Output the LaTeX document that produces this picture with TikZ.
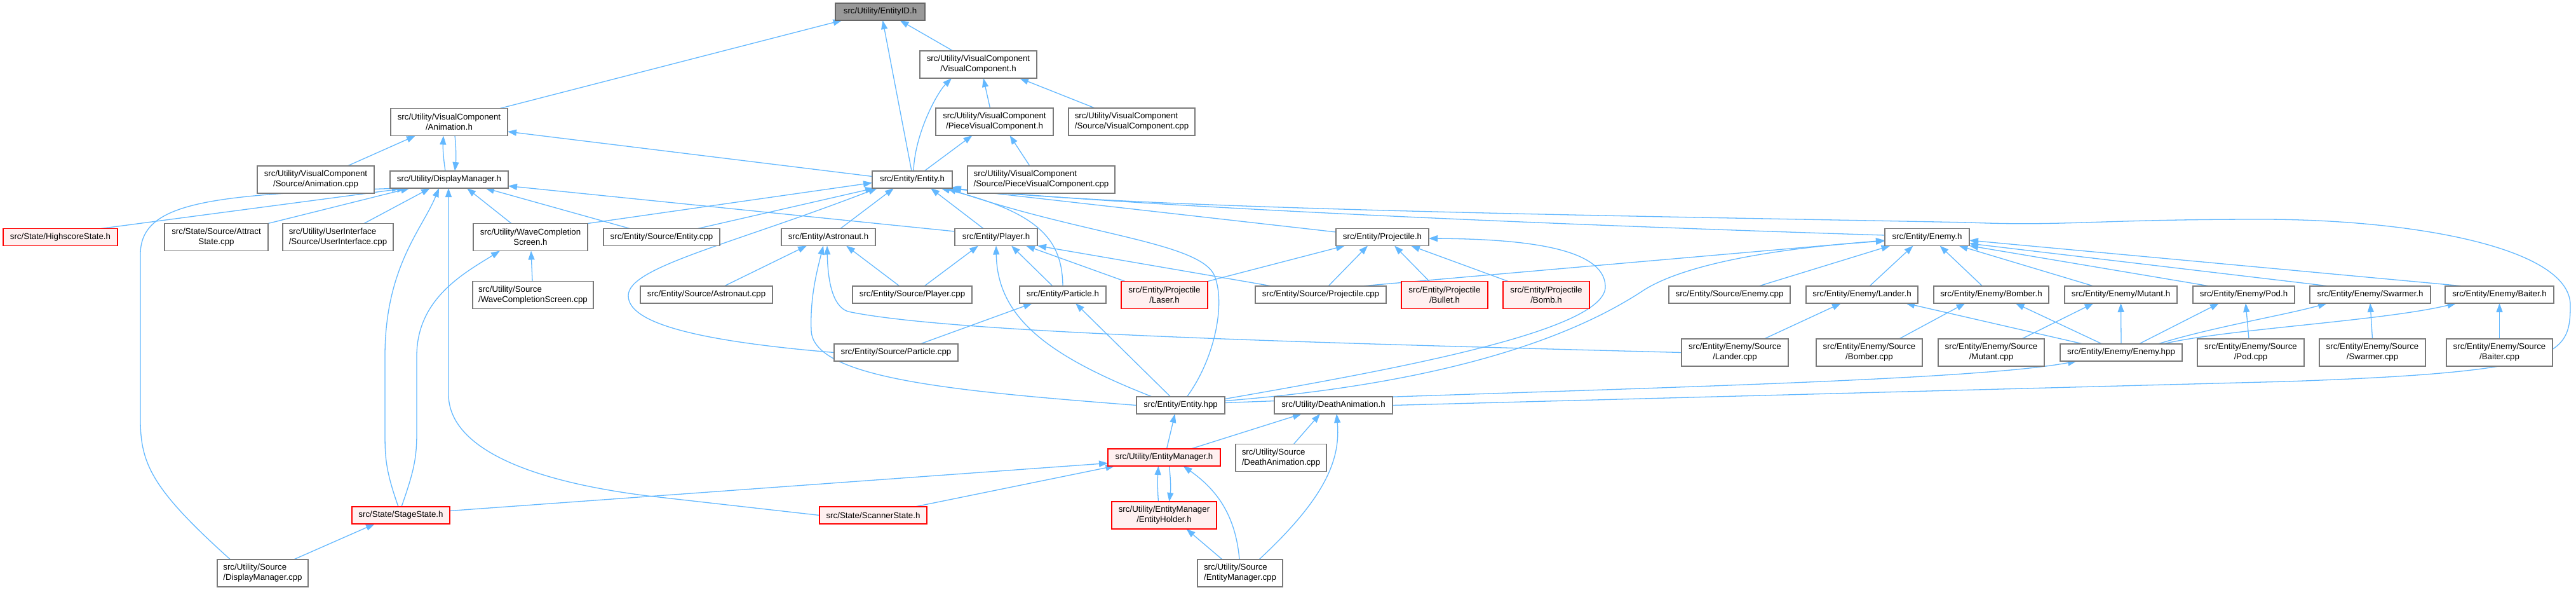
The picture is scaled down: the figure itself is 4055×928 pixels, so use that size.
\documentclass[tikz,border=0pt]{standalone}
\usepackage{fontspec}
\setmainfont{Liberation Sans}
\usetikzlibrary{arrows.meta,backgrounds}
\definecolor{edgeblue}{HTML}{63B8FF}
\definecolor{boxline}{HTML}{7A7A7A}
\definecolor{focusfill}{HTML}{999999}
\definecolor{focusline}{HTML}{666666}
\definecolor{truncfill}{HTML}{FFF0F0}
\tikzset{
  file/.style={draw=boxline,fill=white,line width=1.3pt,inner sep=0pt,outer sep=0pt,
    font=\fontsize{13.3}{16}\selectfont,align=center,minimum height=27pt},
  tall/.style={minimum height=43pt},
  trunc/.style={file,draw=red,fill=truncfill},
  focus/.style={file,draw=focusline,fill=focusfill},
  wd/.style={minimum width=#1pt},
  dep/.style={-{Triangle[length=14pt,width=10pt]},edgeblue,line width=1.3pt},
}

\begin{document}
\begin{tikzpicture}[x=1pt,y=-1pt]
\useasboundingbox (0,0) rectangle (4055,928);
% top of the graph
\node[focus,wd=141] (eid) at (1385.5,18.5) {src/Utility/EntityID.h};
\node[file,tall,wd=184] (vch) at (1540,101.5) {src/Utility/VisualComponent\\/VisualComponent.h};
\node[file,tall,wd=184] (animh) at (707,192) {src/Utility/VisualComponent\\/Animation.h};
\node[file,tall,wd=185] (pvch) at (1565.5,191.5) {src/Utility/VisualComponent\\/PieceVisualComponent.h};
\node[file,tall,wd=199,align=left] (vccpp) at (1781.5,191.5) {src/Utility/VisualComponent\\/Source/VisualComponent.cpp};
\node[file,tall,wd=184] (animcpp) at (497,282.5) {src/Utility/VisualComponent\\/Source/Animation.cpp};
\node[file,wd=186] (dmh) at (707,282.5) {src/Utility/DisplayManager.h};
\node[file,wd=126] (enth) at (1436,282.5) {src/Entity/Entity.h};
\node[file,tall,wd=232,align=left] (pvccpp) at (1639,282.5) {src/Utility/VisualComponent\\/Source/PieceVisualComponent.cpp};

% headers that include Entity.h / DisplayManager.h
\node[trunc,wd=180] (hss) at (95,373) {src/State/HighscoreState.h};
\node[file,tall,wd=163] (attr) at (340.5,373) {src/State/Source/Attract\\State.cpp};
\node[file,tall,wd=174,align=left] (uicpp) at (532,373) {src/Utility/UserInterface\\/Source/UserInterface.cpp};
\node[file,tall,wd=180] (wcsh) at (835,373) {src/Utility/WaveCompletion\\Screen.h};
\node[file,wd=183] (entcpp) at (1041.5,373) {src/Entity/Source/Entity.cpp};
\node[file,wd=148] (astroh) at (1304,373) {src/Entity/Astronaut.h};
\node[file,wd=130] (playh) at (1568,373) {src/Entity/Player.h};
\node[file,wd=146] (projh) at (2176,373) {src/Entity/Projectile.h};
\node[file,wd=133] (enemyh) at (3033.5,373) {src/Entity/Enemy.h};

% next row
\node[file,tall,wd=190,align=left] (wcscpp) at (839,464) {src/Utility/Source\\/WaveCompletionScreen.cpp};
\node[file,wd=208] (astrocpp) at (1112,463.5) {src/Entity/Source/Astronaut.cpp};
\node[file,wd=188] (playcpp) at (1436,463.5) {src/Entity/Source/Player.cpp};
\node[file,wd=136] (parth) at (1673,463.5) {src/Entity/Particle.h};
\node[trunc,tall,wd=136] (laser) at (1833,464) {src/Entity/Projectile\\/Laser.h};
\node[file,wd=206] (projcpp) at (2079,463.5) {src/Entity/Source/Projectile.cpp};
\node[trunc,tall,wd=136] (bullet) at (2274,464) {src/Entity/Projectile\\/Bullet.h};
\node[trunc,tall,wd=136] (bomb) at (2434,464) {src/Entity/Projectile\\/Bomb.h};
\node[file,wd=191] (enemycpp) at (2722.5,463.5) {src/Entity/Source/Enemy.cpp};
\node[file,wd=176] (landerh) at (2931,463.5) {src/Entity/Enemy/Lander.h};
\node[file,wd=181] (bomberh) at (3134.5,463.5) {src/Entity/Enemy/Bomber.h};
\node[file,wd=177] (mutanth) at (3338.5,463.5) {src/Entity/Enemy/Mutant.h};
\node[file,wd=160] (podh) at (3532,463.5) {src/Entity/Enemy/Pod.h};
\node[file,wd=190] (swarmerh) at (3731,463.5) {src/Entity/Enemy/Swarmer.h};
\node[file,wd=171] (baiterh) at (3934.5,463.5) {src/Entity/Enemy/Baiter.h};

% sources of the enemies
\node[file,wd=195] (partcpp) at (1410.5,554.5) {src/Entity/Source/Particle.cpp};
\node[file,tall,wd=168] (landercpp) at (2731,554.5) {src/Entity/Enemy/Source\\/Lander.cpp};
\node[file,tall,wd=167] (bombercpp) at (2942.5,554.5) {src/Entity/Enemy/Source\\/Bomber.cpp};
\node[file,tall,wd=167] (mutantcpp) at (3134.5,554.5) {src/Entity/Enemy/Source\\/Mutant.cpp};
\node[file,wd=192] (enemyhpp) at (3339,554.5) {src/Entity/Enemy/Enemy.hpp};
\node[file,tall,wd=168] (podcpp) at (3543,554.5) {src/Entity/Enemy/Source\\/Pod.cpp};
\node[file,tall,wd=167] (swarmercpp) at (3734.5,554.5) {src/Entity/Enemy/Source\\/Swarmer.cpp};
\node[file,tall,wd=167] (baitercpp) at (3934.5,554.5) {src/Entity/Enemy/Source\\/Baiter.cpp};

% lower part
\node[file,wd=139] (enthpp) at (1858.5,637.5) {src/Entity/Entity.hpp};
\node[file,wd=186] (deathh) at (2099,637.5) {src/Utility/DeathAnimation.h};
\node[trunc,wd=177] (emh) at (1832.5,719.5) {src/Utility/EntityManager.h};
\node[file,tall,wd=143,align=left] (deathcpp) at (2016.5,720) {src/Utility/Source\\/DeathAnimation.cpp};
\node[trunc,wd=154] (stageh) at (631,810.5) {src/State/StageState.h};
\node[trunc,wd=169] (scanh) at (1374.5,810.5) {src/State/ScannerState.h};
\node[trunc,tall,wd=165] (holderh) at (1832.5,810.5) {src/Utility/EntityManager\\/EntityHolder.h};
\node[file,tall,wd=143,align=left] (dmcpp) at (413.5,901.5) {src/Utility/Source\\/DisplayManager.cpp};
\node[file,tall,wd=134,align=left] (emcpp) at (1952,901.5) {src/Utility/Source\\/EntityManager.cpp};

\begin{scope}[on background layer]
% into EntityID.h
\draw[dep] ([xshift=80pt]animh.north) -- ([xshift=-60pt]eid.south);
\draw[dep] ([xshift=-1pt]enth.north) -- ([xshift=4pt]eid.south);
\draw[dep] ([xshift=-40pt]vch.north) -- ([xshift=31pt]eid.south);
% visual components
\draw[dep] ([xshift=2pt]enth.north) .. controls (1440,210) and (1475,146) .. ([xshift=-42pt]vch.south);
\draw[dep] ([xshift=-7pt]pvch.north) -- ([xshift=8pt]vch.south);
\draw[dep] ([xshift=-58pt]vccpp.north) -- ([xshift=65pt]vch.south);
\draw[dep] ([xshift=19pt]enth.north) -- ([xshift=-35pt]pvch.south);
\draw[dep] ([xshift=-18pt]pvccpp.north) -- ([xshift=24pt]pvch.south);
% Animation.h and DisplayManager.h
\draw[dep] ([xshift=50pt]animcpp.north) -- ([xshift=-53pt]animh.south);
\draw[dep] ([xshift=-6pt]dmh.north) .. controls (698,250) and (697,232) .. ([xshift=-9pt]animh.south);
\draw[dep] ([xshift=9pt]animh.south) .. controls (718,232) and (718,250) .. ([xshift=9pt]dmh.north);
\draw[dep] ([yshift=5pt]enth.west) -- ([yshift=-15pt]animh.east);
\draw[dep] ([xshift=64pt]hss.north) -- ([xshift=-68pt]dmh.south);
\draw[dep] (attr.north east) -- ([xshift=-62pt]dmh.south);
\draw[dep] ([xshift=41pt]uicpp.north) -- ([xshift=-30pt]dmh.south);
\draw[dep] ([xshift=-30pt]wcsh.north) -- ([xshift=28pt]dmh.south);
\draw[dep] ([xshift=-50pt]entcpp.north) -- ([xshift=57pt]dmh.south);
\draw[dep] ([yshift=9pt]playh.west) -- ([yshift=-10pt]dmh.east);
\draw[dep] ([xshift=-51pt]dmcpp.north) .. controls (240,770) and (221,730) .. (221,660) -- (221,400)
  .. controls (221,318) and (330,306) .. ([xshift=-76pt]dmh.south);
\draw[dep] ([xshift=-4pt]stageh.north) .. controls (607,740) and (606,720) .. (606,680) -- (606,560)
  .. controls (606,420) and (665,360) .. ([xshift=-16pt]dmh.south);
\draw[dep] ([xshift=1pt]stageh.north) .. controls (652,740) and (656,720) .. (656,680) -- (656,560)
  .. controls (656,470) and (730,430) .. ([xshift=-48pt]wcsh.south);
\draw[dep] (scanh.west) -- (1020,780) .. controls (820,755) and (706,700) .. (706,620) -- ([xshift=-1pt]dmh.south);
% states and EntityManager.h
\draw[dep] ([xshift=49pt]dmcpp.north) -- ([xshift=-41pt]stageh.south);
\draw[dep] ([yshift=7pt]stageh.east) -- ([yshift=-9pt]emh.west);
\draw[dep] ([xshift=66pt]scanh.north) -- ([xshift=-78pt]emh.south);
% into Entity.h
\draw[dep] ([xshift=-1pt]wcscpp.north) -- ([xshift=1pt]wcsh.south);
\draw[dep] (wcsh.north east) -- ([yshift=-5pt]enth.west);
\draw[dep] ([xshift=57pt]entcpp.north) -- ([xshift=3pt]enth.south west);
\draw[dep] (partcpp.west) .. controls (1080,535) and (989,505) .. (989,465)
  .. controls (989,420) and (1150,385) .. ([xshift=8pt]enth.south west);
\draw[dep] ([xshift=19pt]astroh.north) -- ([xshift=-29pt]enth.south);
\draw[dep] ([xshift=-20pt]playh.north) -- ([xshift=29pt]enth.south);
\draw[dep] (parth.north) .. controls (1672,380) and (1640,335) .. ([xshift=45pt]enth.south);
\draw[dep] ([xshift=10pt]enthpp.north) .. controls (1915,560) and (1930,470) .. (1910,430)
  .. controls (1880,380) and (1700,368) .. ([xshift=55pt]enth.south);
\draw[dep] ([yshift=8pt]projh.west) -- ([xshift=-6pt]enth.south east);
\draw[dep] ([yshift=3pt]enemyh.west) .. controls (2400,352) and (1800,325) .. ([xshift=-3pt]enth.south east);
\draw[dep] (deathh.east) -- (3600,600) .. controls (4030,585) and (4046,560) .. (4046,480)
  .. controls (4046,390) and (3800,345) .. (3560,345) .. controls (3300,345) and (3250,356) .. (3100,350)
  .. controls (2600,340) and (1800,330) .. (enth.south east);
% Astronaut.h
\draw[dep] ([xshift=28pt]astrocpp.north) -- ([xshift=-34pt]astroh.south);
\draw[dep] ([xshift=-20pt]playcpp.north) -- ([xshift=28pt]astroh.south);
\draw[dep] (enthpp.west) .. controls (1500,615) and (1280,595) .. (1277,520)
  .. controls (1275,470) and (1285,430) .. ([xshift=-8pt]astroh.south);
\draw[dep] (landercpp.west) .. controls (2100,540) and (1500,525) .. (1335,490)
  .. controls (1310,482) and (1303,440) .. ([xshift=-2pt]astroh.south);
% Player.h
\draw[dep] ([xshift=19pt]playcpp.north) -- ([xshift=-28pt]playh.south);
\draw[dep] ([xshift=-45pt]enthpp.north) .. controls (1650,560) and (1570,500) .. (playh.south);
\draw[dep] ([xshift=-16pt]parth.north) -- ([xshift=24pt]playh.south);
\draw[dep] ([xshift=-62pt]laser.north) -- ([xshift=47pt]playh.south);
\draw[dep] ([xshift=-77pt]projcpp.north) -- (playh.south east);
% Particle.h
\draw[dep] ([xshift=38pt]partcpp.north) -- ([xshift=-48pt]parth.south);
\draw[dep] ([xshift=-16pt]enthpp.north) -- ([xshift=20pt]parth.south);
% Projectile.h
\draw[dep] (laser.north east) -- ([xshift=-59pt]projh.south);
\draw[dep] ([xshift=12pt]projcpp.north) -- ([xshift=-23pt]projh.south);
\draw[dep] ([xshift=-24pt]bullet.north) -- ([xshift=19pt]projh.south);
\draw[dep] ([xshift=-60pt]bomb.north) -- ([xshift=45pt]projh.south);
\draw[dep] ([yshift=10pt]enthpp.east) .. controls (2200,580) and (2530,520) .. (2527,450)
  .. controls (2525,390) and (2400,376) .. ([yshift=-2pt]projh.east);
% Enemy.h
\draw[dep] ([xshift=64pt]projcpp.north) -- ([yshift=-5pt]enemyh.west);
\draw[dep] ([yshift=7pt]enthpp.east) .. controls (2250,605) and (2460,540) .. (2585,458)
  .. controls (2650,415) and (2800,390) .. ([yshift=-6pt]enemyh.west);
\draw[dep] ([xshift=46pt]enemycpp.north) -- ([xshift=-58pt]enemyh.south);
\draw[dep] ([xshift=12pt]landerh.north) -- ([xshift=-22pt]enemyh.south);
\draw[dep] ([xshift=-14pt]bomberh.north) -- ([xshift=20pt]enemyh.south);
\draw[dep] ([xshift=-43pt]mutanth.north) -- ([xshift=50pt]enemyh.south);
\draw[dep] ([xshift=-54pt]podh.north) -- (enemyh.south east);
\draw[dep] ([xshift=-65pt]swarmerh.north) -- ([yshift=-10pt]enemyh.east);
\draw[dep] ([xshift=-57pt]baiterh.north) -- ([yshift=-5pt]enemyh.east);
% enemy kinds
\draw[dep] ([xshift=46pt]landercpp.north) -- ([xshift=-33pt]landerh.south);
\draw[dep] ([xshift=-60pt]enemyhpp.north) -- ([xshift=69pt]landerh.south);
\draw[dep] ([xshift=47pt]bombercpp.north) -- ([xshift=-41pt]bomberh.south);
\draw[dep] ([xshift=-30pt]enemyhpp.north) -- ([xshift=38pt]bomberh.south);
\draw[dep] ([xshift=48pt]mutantcpp.north) -- ([xshift=-43pt]mutanth.south);
\draw[dep] (enemyhpp.north) -- (mutanth.south);
\draw[dep] ([xshift=28pt]enemyhpp.north) -- ([xshift=-39pt]podh.south);
\draw[dep] ([xshift=-3pt]podcpp.north) -- ([xshift=3pt]podh.south);
\draw[dep] ([xshift=58pt]enemyhpp.north) .. controls (3480,515) and (3600,495) .. ([xshift=-68pt]swarmerh.south);
\draw[dep] (swarmercpp.north) -- (swarmerh.south);
\draw[dep] ([xshift=66pt]enemyhpp.north) .. controls (3500,518) and (3750,505) .. ([xshift=-68pt]baiterh.south);
\draw[dep] (baitercpp.north) -- (baiterh.south);
% Entity.hpp, DeathAnimation.h, EntityManager.h
\draw[dep] ([yshift=4pt]enthpp.east) .. controls (2500,612) and (3100,600) .. ([xshift=-70pt]enemyhpp.south);
\draw[dep] ([xshift=4pt]emh.north) -- ([xshift=-9pt]enthpp.south);
\draw[dep] ([xshift=42pt]emh.north) -- ([xshift=-50pt]deathh.south);
\draw[dep] ([xshift=20pt]deathcpp.north) -- ([xshift=-21pt]deathh.south);
\draw[dep] ([xshift=30pt]emcpp.north) .. controls (2090,780) and (2110,720) .. ([xshift=5pt]deathh.south);
\draw[dep] ([xshift=8pt]emh.south) .. controls (1843,755) and (1843,770) .. ([xshift=8pt]holderh.north);
\draw[dep] ([xshift=-9pt]holderh.north) .. controls (1822,770) and (1822,755) .. ([xshift=-9pt]emh.south);
\draw[dep] ([xshift=-1pt]emcpp.north) .. controls (1945,810) and (1915,770) .. ([xshift=30pt]emh.south);
\draw[dep] ([xshift=-28pt]emcpp.north) -- ([xshift=35pt]holderh.south);
\end{scope}
\end{tikzpicture}
\end{document}
